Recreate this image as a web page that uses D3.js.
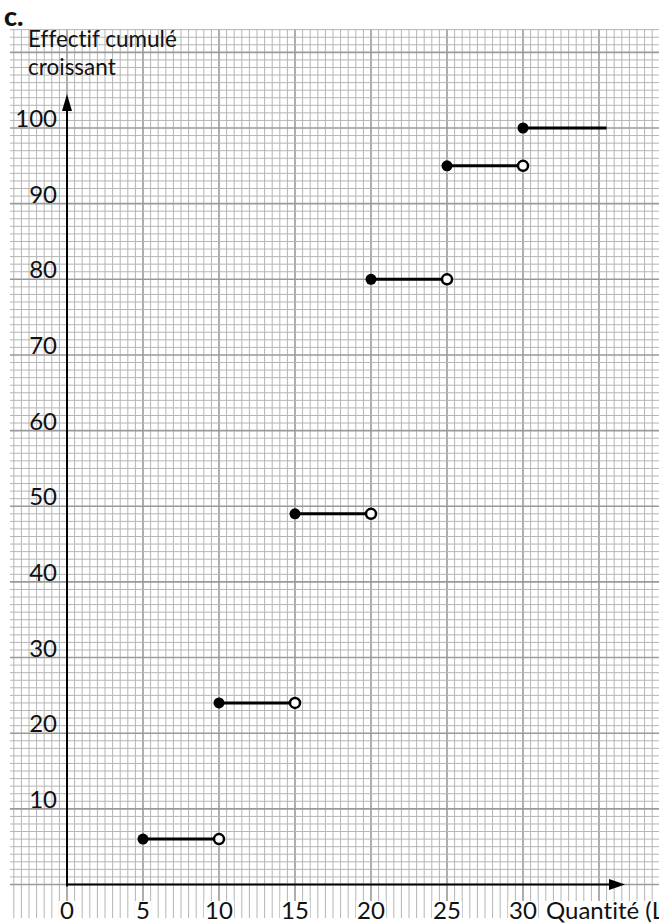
<!DOCTYPE html>
<html>
<head>
<meta charset="utf-8">
<script src="https://cdn.jsdelivr.net/npm/d3@7"></script>
<style>
  html, body { margin: 0; padding: 0; background: #fff; overflow: hidden; }
  svg { display: block; }
  text { font-family: Lato, "Open Sans", sans-serif; fill: #111; font-variant-ligatures: none; }
</style>
</head>
<body>
<svg id="chart" width="659" height="924"></svg>
<script>
// ---- data ----
const stepStart = [5, 10, 15, 20, 25, 30];
const stepEnd   = [10, 15, 20, 25, 30, 35.5];
const cumValues = [6, 24, 49, 80, 95, 100];
const openEnd   = [true, true, true, true, true, false];
const xTicks = [0, 5, 10, 15, 20, 25, 30];
const yTicks = [10, 20, 30, 40, 50, 60, 70, 80, 90, 100];
const xTitle = "Quantité (L)";
const yTitle = ["Effectif cumulé", "croissant"];
const panelLabel = "c.";

// ---- scales ----
const x = d3.scaleLinear().domain([0, 35]).range([67, 599]);
const y = d3.scaleLinear().domain([0, 100]).range([884.5, 128]);

const svg = d3.select("#chart");
svg.append("rect").attr("width", 659).attr("height", 924).attr("fill", "#fff");

// ---- graph paper grid ----
const grid = svg.append("g");
const xMin = x.invert(12), xMax = x.invert(659);
const yTop = y.invert(29), yBottomV = y.invert(918);
const vLines = d3.range(Math.ceil(xMin * 2), Math.floor(xMax * 2) + 1).map(k => k / 2);
const hLines = d3.range(0, Math.floor(yTop) + 1);
grid.selectAll("line.v").data(vLines).join("line")
  .attr("x1", d => x(d)).attr("x2", d => x(d))
  .attr("y1", y(yTop)).attr("y2", y(yBottomV))
  .attr("stroke", d => (Math.round(d * 2) % 10 === 0) ? "#9a9a9a" : "#b5b5b5")
  .attr("stroke-width", d => (Math.round(d * 2) % 10 === 0) ? 1.6 : 1);
grid.selectAll("line.h").data(hLines).join("line")
  .attr("x1", 10).attr("x2", 659)
  .attr("y1", d => y(d)).attr("y2", d => y(d))
  .attr("stroke", d => (d % 10 === 0) ? "#9a9a9a" : "#b5b5b5")
  .attr("stroke-width", d => (d % 10 === 0) ? 1.6 : 1);

// ---- axes ----
const ax = svg.append("g");
ax.append("line").attr("x1", x(0) - 1).attr("x2", 612).attr("y1", y(0)).attr("y2", y(0))
  .attr("stroke", "#000").attr("stroke-width", 2);
ax.append("line").attr("x1", x(0)).attr("x2", x(0)).attr("y1", y(0) + 2).attr("y2", 108)
  .attr("stroke", "#000").attr("stroke-width", 2);
ax.append("path").attr("d", `M625,${y(0)} L609,${y(0) - 5.5} L609,${y(0) + 5.5} Z`).attr("fill", "#000");
ax.append("path").attr("d", `M${x(0)},94 L${x(0) - 5},111 L${x(0) + 5},111 Z`).attr("fill", "#000");

// y tick labels
svg.selectAll("text.yt").data(yTicks).join("text")
  .attr("x", 57).attr("y", d => y(d) - 1)
  .attr("text-anchor", "end").attr("font-size", 24)
  .text(d => d);

// x tick labels with white backing
const xl = svg.append("g");
xTicks.forEach(t => {
  const g = xl.append("g");
  const txt = g.append("text").attr("x", x(t)).attr("y", 919)
    .attr("text-anchor", "middle").attr("font-size", 24).text(t);
  const bb = txt.node().getBBox();
  g.insert("rect", "text").attr("x", bb.x - 1).attr("y", 901).attr("width", bb.width + 2).attr("height", 23).attr("fill", "#fff");
});
{
  const g = xl.append("g");
  const txt = g.append("text").attr("x", 546).attr("y", 919).attr("font-size", 24).text(xTitle);
  const bb = txt.node().getBBox();
  g.insert("rect", "text").attr("x", bb.x - 2).attr("y", 901).attr("width", bb.width + 4).attr("height", 23).attr("fill", "#fff");
}

// y title
svg.append("text").attr("x", 28).attr("y", 47).attr("font-size", 22.5).text(yTitle[0]);
svg.append("text").attr("x", 28).attr("y", 74.5).attr("font-size", 22.5).text(yTitle[1]);
// panel label
svg.append("text").attr("x", 4).attr("y", 26).attr("font-size", 27).attr("font-weight", "900").text(panelLabel);

// ---- step function ----
const steps = stepStart.map((s, i) => ({ s, e: stepEnd[i], v: cumValues[i], open: openEnd[i] }));
const sg = svg.append("g");
sg.selectAll("line.seg").data(steps).join("line")
  .attr("x1", d => x(d.s)).attr("x2", d => x(d.e))
  .attr("y1", d => y(d.v)).attr("y2", d => y(d.v))
  .attr("stroke", "#000").attr("stroke-width", 3);
sg.selectAll("circle.open").data(steps.filter(d => d.open)).join("circle")
  .attr("cx", d => x(d.e)).attr("cy", d => y(d.v)).attr("r", 5)
  .attr("fill", "#fff").attr("stroke", "#000").attr("stroke-width", 2.5);
sg.selectAll("circle.closed").data(steps).join("circle")
  .attr("cx", d => x(d.s)).attr("cy", d => y(d.v)).attr("r", 5.5)
  .attr("fill", "#000");
</script>
</body>
</html>
